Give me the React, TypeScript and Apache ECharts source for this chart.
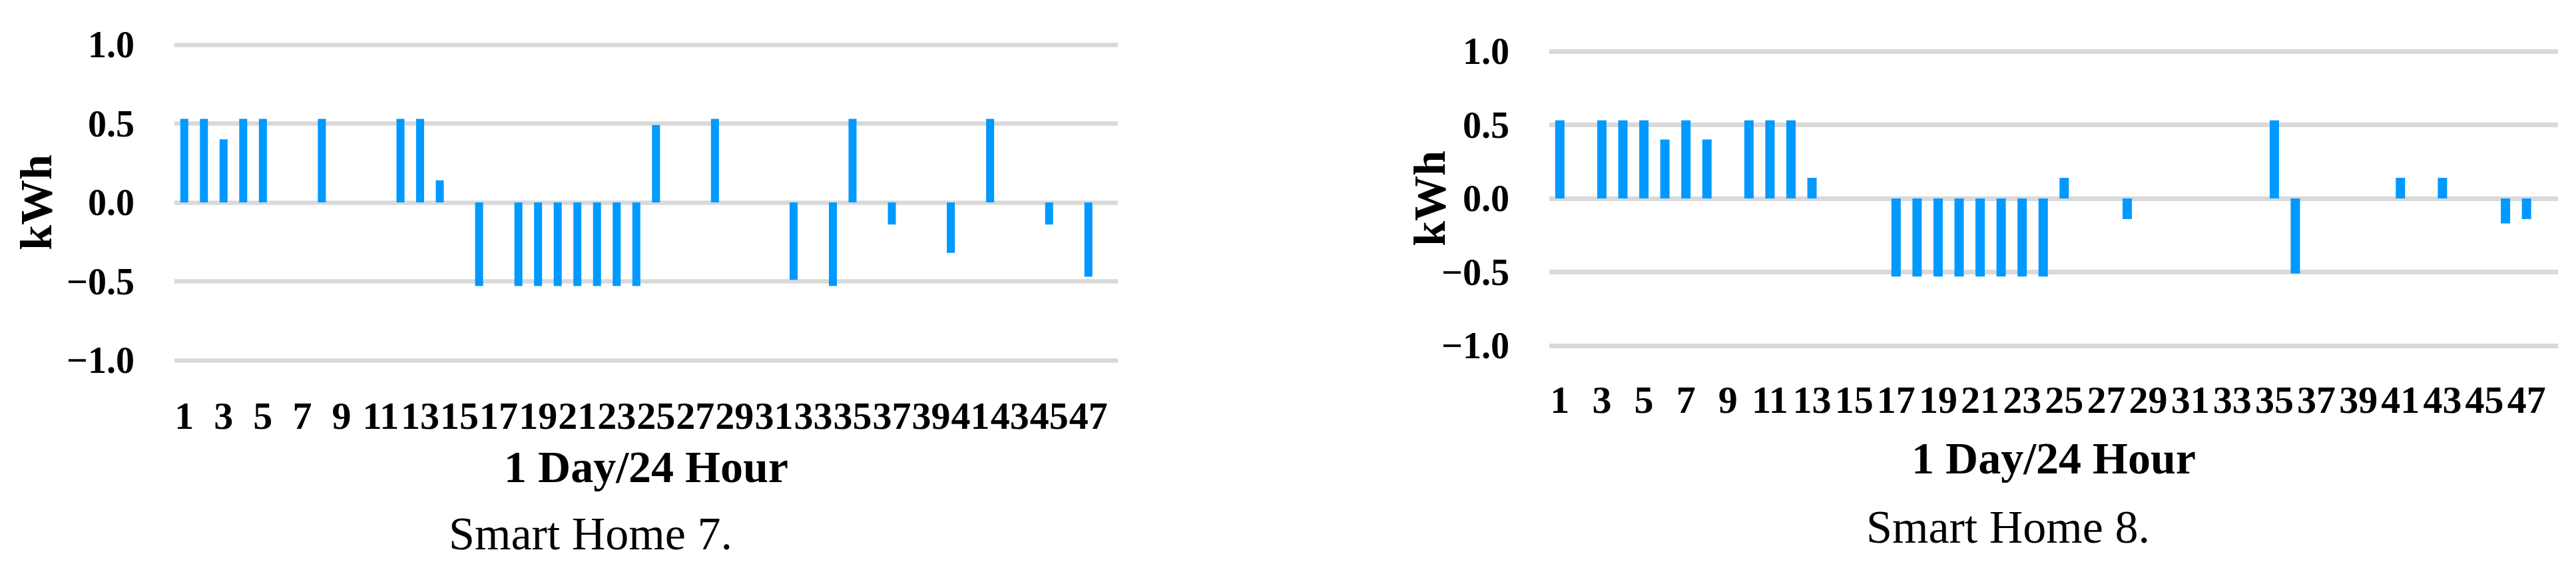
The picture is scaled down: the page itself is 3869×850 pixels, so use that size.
import React, { useEffect, useRef } from 'react';
import * as echarts from 'echarts';

// 48 half-hour slots of one day
const HALF_HOURS = [
  '1', '2', '3', '4', '5', '6', '7', '8', '9', '10', '11', '12',
  '13', '14', '15', '16', '17', '18', '19', '20', '21', '22', '23', '24',
  '25', '26', '27', '28', '29', '30', '31', '32', '33', '34', '35', '36',
  '37', '38', '39', '40', '41', '42', '43', '44', '45', '46', '47', '48',
];

// Smart Home 7 (kWh)
const HOME7_KWH = [
  0.53, 0.53, 0.40, 0.53, 0.53, 0, 0, 0.53, 0, 0, 0, 0.53,
  0.53, 0.14, 0, -0.53, 0, -0.53, -0.53, -0.53, -0.53, -0.53, -0.53, -0.53,
  0.49, 0, 0, 0.53, 0, 0, 0, -0.49, 0, -0.53, 0.53, 0,
  -0.14, 0, 0, -0.32, 0, 0.53, 0, 0, -0.14, 0, -0.47, 0,
];

// Smart Home 8 (kWh)
const HOME8_KWH = [
  0.53, 0, 0.53, 0.53, 0.53, 0.40, 0.53, 0.40, 0, 0.53, 0.53, 0.53,
  0.14, 0, 0, 0, -0.53, -0.53, -0.53, -0.53, -0.53, -0.53, -0.53, -0.53,
  0.14, 0, 0, -0.14, 0, 0, 0, 0, 0, 0, 0.53, -0.51,
  0, 0, 0, 0, 0.14, 0, 0.14, 0, 0, -0.17, -0.14, 0,
];

const Y_MIN = -1;
const Y_MAX = 1;
const Y_STEP = 0.5;

const X_TITLE = '1 Day/24 Hour';
const Y_TITLE = 'kWh';
const CAPTIONS = ['Smart Home 7.', 'Smart Home 8.'];

const FONT_FAMILY = '"Liberation Serif", "Times New Roman", serif';
const BAR_COLOR = '#0099ff';
const GRID_COLOR = '#d9d9d9';

const PANELS = [
  {
    data: HOME7_KWH,
    caption: CAPTIONS[0],
    grid: { left: 262, top: 67, width: 1417, height: 474 },
    barWidth: 12,
    lineWidth: 6.5,
    xLabelMargin: 54,
    yTitleX: 53.5,
    xTitleY: 701,
    captionX: 887,
    captionY: 801,
  },
  {
    data: HOME8_KWH,
    caption: CAPTIONS[1],
    grid: { left: 2327, top: 77, width: 1515, height: 442 },
    barWidth: 14,
    lineWidth: 7,
    xLabelMargin: 52,
    yTitleX: 2146.5,
    xTitleY: 688,
    captionX: 3016,
    captionY: 791,
  },
];

const fmtY = (v: number) => (v < 0 ? '\u2212' + Math.abs(v).toFixed(1) : v.toFixed(1));

function textEl(text: string, x: number, y: number, font: string, rotation = 0) {
  return {
    type: 'text',
    x,
    y,
    rotation,
    silent: true,
    style: {
      text,
      font,
      fill: '#000',
      align: 'center',
      verticalAlign: 'middle',
      textAlign: 'center',
      textVerticalAlign: 'middle',
    },
  };
}

export default function App() {
  const ref = useRef<HTMLDivElement>(null);

  useEffect(() => {
    if (!ref.current) return;
    const chart = echarts.init(ref.current, undefined, { renderer: 'svg' });

    const grids = PANELS.map((p) => ({ ...p.grid, containLabel: false }));
    const xAxes = PANELS.map((p, i) => ({
      type: 'category',
      gridIndex: i,
      data: HALF_HOURS,
      axisLine: { show: false },
      axisTick: { show: false },
      splitLine: { show: false },
      axisLabel: {
        interval: 1,
        margin: p.xLabelMargin,
        color: '#000',
        fontFamily: FONT_FAMILY,
        fontWeight: 'bold',
        fontSize: 58,
      },
    }));
    const yAxes = PANELS.map((p, i) => ({
      type: 'value',
      gridIndex: i,
      min: Y_MIN,
      max: Y_MAX,
      interval: Y_STEP,
      axisLine: { show: false },
      axisTick: { show: false },
      splitLine: { show: true, lineStyle: { color: GRID_COLOR, width: p.lineWidth } },
      axisLabel: {
        margin: 60,
        color: '#000',
        fontFamily: FONT_FAMILY,
        fontWeight: 'bold',
        fontSize: 56,
        formatter: fmtY,
      },
    }));
    const series = PANELS.map((p, i) => ({
      type: 'bar',
      xAxisIndex: i,
      yAxisIndex: i,
      data: p.data,
      barWidth: p.barWidth,
      itemStyle: { color: BAR_COLOR },
      silent: true,
    }));

    const graphics: any[] = [];
    PANELS.forEach((p) => {
      const cx = p.grid.left + p.grid.width / 2;
      const cy = p.grid.top + p.grid.height / 2;
      graphics.push(textEl(Y_TITLE, p.yTitleX, cy, `bold 68px ${FONT_FAMILY}`, Math.PI / 2));
      graphics.push(textEl(X_TITLE, cx, p.xTitleY, `bold 68px ${FONT_FAMILY}`));
      graphics.push(textEl(p.caption, p.captionX, p.captionY, `70px ${FONT_FAMILY}`));
    });

    chart.setOption({
      animation: false,
      backgroundColor: '#ffffff',
      grid: grids,
      xAxis: xAxes,
      yAxis: yAxes,
      series,
      graphic: graphics,
    });

    return () => chart.dispose();
  }, []);

  return (
    <div
      ref={ref}
      style={{ position: 'absolute', left: 0, top: 0, width: 3869, height: 850, background: '#fff' }}
    />
  );
}
